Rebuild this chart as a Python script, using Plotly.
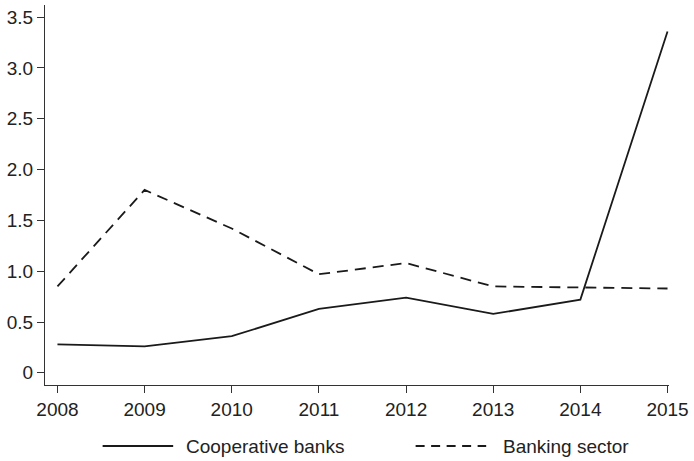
import plotly.graph_objects as go

years = [2008, 2009, 2010, 2011, 2012, 2013, 2014, 2015]
cooperative_banks = [0.28, 0.26, 0.36, 0.63, 0.74, 0.58, 0.72, 3.36]
banking_sector = [0.85, 1.80, 1.42, 0.97, 1.08, 0.85, 0.84, 0.83]
series_names = ["Cooperative banks", "Banking sector"]
y_ticks = [0, 0.5, 1.0, 1.5, 2.0, 2.5, 3.0, 3.5]
y_tick_labels = ["0", "0.5", "1.0", "1.5", "2.0", "2.5", "3.0", "3.5"]

FONT = "Liberation Sans, Arial, sans-serif"
TXT = "#222222"
AX = "#333333"
LINE = "#1a1a1a"

fig = go.Figure()
fig.add_trace(go.Scatter(x=years, y=cooperative_banks, mode="lines", name=series_names[0],
                         line=dict(color=LINE, width=1.8), showlegend=False))
fig.add_trace(go.Scatter(x=years, y=banking_sector, mode="lines", name=series_names[1],
                         line=dict(color=LINE, width=1.8, dash="11px,7px"), showlegend=False))

# manual legend (long sample lines, as in the reference)
W = 628.0
H = 380.0
def px(x):
    return (x - 45) / W
def py(y):
    return (385 - y) / H

leg_y = py(446)
fig.add_shape(type="line", xref="paper", yref="paper", x0=px(103), x1=px(174), y0=leg_y, y1=leg_y,
              line=dict(color=LINE, width=1.8))
fig.add_shape(type="line", xref="paper", yref="paper", x0=px(418), x1=px(489), y0=leg_y, y1=leg_y,
              line=dict(color=LINE, width=1.8, dash="9px,6.5px"))
fig.add_annotation(xref="paper", yref="paper", x=px(185), y=leg_y, text=series_names[0],
                   showarrow=False, xanchor="left", yanchor="middle",
                   font=dict(family=FONT, size=19, color=TXT))
fig.add_annotation(xref="paper", yref="paper", x=px(504), y=leg_y, text=series_names[1],
                   showarrow=False, xanchor="left", yanchor="middle",
                   font=dict(family=FONT, size=19, color=TXT))

fig.update_layout(
    width=694, height=461,
    margin=dict(l=45, r=21, t=5, b=76),
    paper_bgcolor="white", plot_bgcolor="white",
    font=dict(family=FONT, size=19, color=TXT),
    showlegend=False,
)
fig.update_xaxes(range=[2007.857, 2015.017], tickvals=years, ticktext=[str(y) for y in years],
                 showgrid=False, zeroline=False, showline=True, linecolor=AX, linewidth=1,
                 ticks="outside", ticklen=7, tickcolor=AX, tickwidth=1,
                 tickfont=dict(family=FONT, size=19, color=TXT))
fig.update_yaxes(range=[-0.12, 3.62], tickvals=y_ticks, ticktext=y_tick_labels,
                 showgrid=False, zeroline=False, showline=True, linecolor=AX, linewidth=1,
                 ticks="outside", ticklen=7, tickcolor=AX, tickwidth=1,
                 tickfont=dict(family=FONT, size=19, color=TXT))

fig.write_html("out.html")
